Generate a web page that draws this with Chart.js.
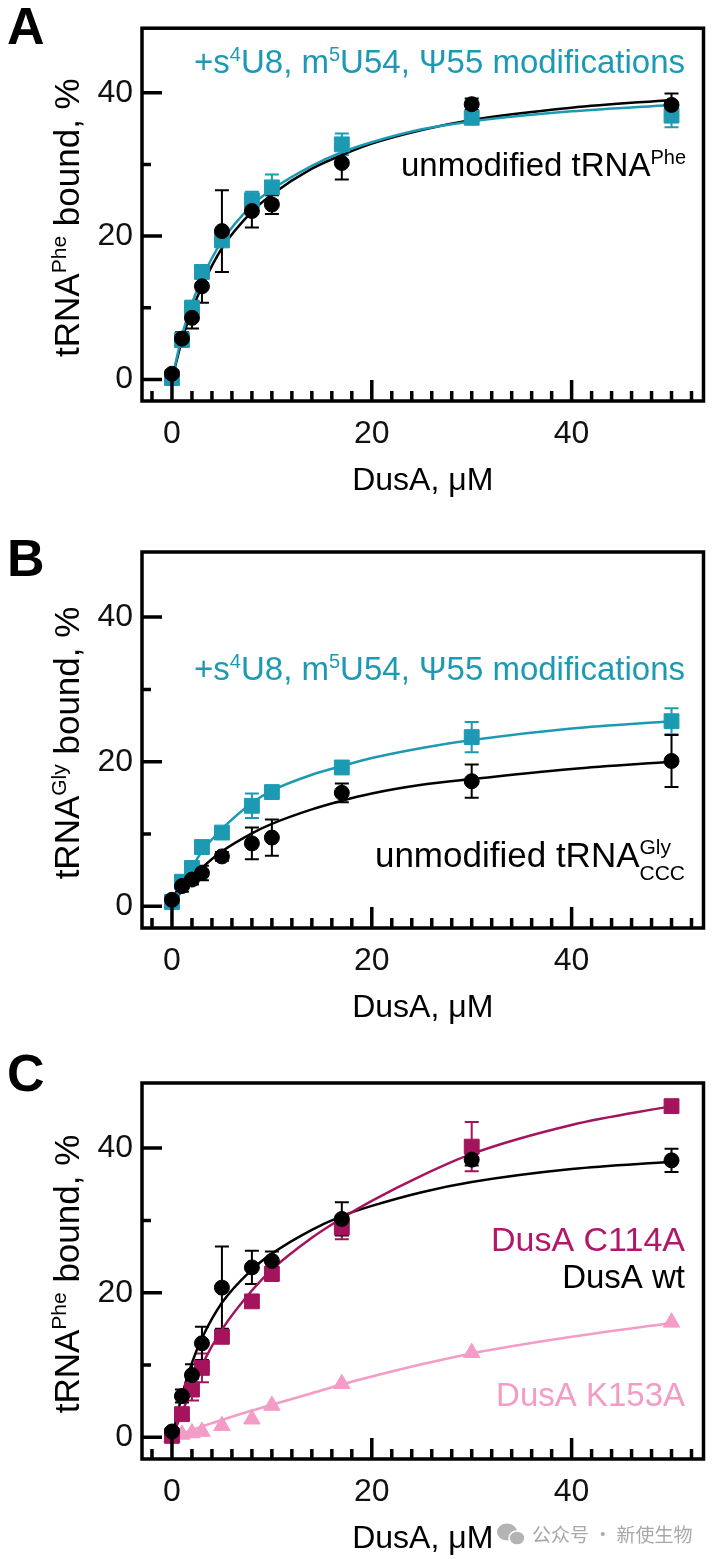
<!DOCTYPE html>
<html>
<head>
<meta charset="utf-8">
<script src="https://cdn.jsdelivr.net/npm/chart.js@4.4.1/dist/chart.umd.min.js"></script>
<style>
  html, body { margin: 0; padding: 0; background: #fff; }
  body { width: 715px; height: 1559px; position: relative; overflow: hidden; }
  .panel { position: absolute; left: 0; width: 715px; }
  canvas { display: block; }
</style>
</head>
<body>
<div class="panel" style="top:0px"><canvas id="chartA" width="715" height="520"></canvas></div>
<div class="panel" style="top:520px"><canvas id="chartB" width="715" height="520"></canvas></div>
<div class="panel" style="top:1040px"><canvas id="chartC" width="715" height="519"></canvas></div>
<script>
// DusA concentrations (uM) and points where the fitted curves were read
const dusA = [0, 1, 2, 3, 5, 8, 10, 17, 30, 50];
const fitX = [0, 1, 2, 3, 5, 8, 10, 14, 17, 20, 25, 30, 40, 50];
const xTickLabels = [0, 20, 40];
const yTickLabels = [0, 20, 40];

// A: tRNAPhe
const pheUnmod = [0.8, 5.7, 8.6, 13.0, 20.7, 23.5, 24.4, 30.2, 38.4, 38.3];
const pheUnmodErr = [0.5, 0.9, 1.5, 2.3, 5.7, 2.3, 1.3, 2.3, 0.8, 1.6];
const pheUnmodFit = [0, 5.5, 9.6, 13.0, 18.3, 23.4, 25.8, 29.4, 31.3, 32.9, 34.8, 36.2, 37.9, 39.0];
const pheMod = [0.2, 5.5, 10.0, 15.0, 19.4, 25.0, 26.8, 32.8, 36.5, 36.8];
const pheModErr = [0.5, 0.8, 1.0, 0.8, 0.8, 1.2, 1.8, 1.5, 0.6, 1.6];
const pheModFit = [0, 6.1, 10.6, 14.1, 19.3, 24.3, 26.5, 29.8, 31.7, 33.1, 34.9, 36.0, 37.4, 38.3];

// B: tRNAGly
const glyUnmod = [0.9, 2.8, 3.7, 4.6, 6.9, 8.7, 9.5, 15.7, 17.3, 20.1];
const glyUnmodErr = [0.5, 0.8, 0.7, 1.0, 0.6, 2.2, 2.5, 1.3, 2.3, 3.6];
const glyUnmodFit = [0, 2.2, 3.9, 5.3, 7.6, 10.1, 11.4, 13.4, 14.6, 15.6, 16.8, 17.6, 19.0, 20.0];
const glyMod = [0.6, 3.4, 5.3, 8.2, 10.2, 13.9, 15.8, 19.2, 23.4, 25.6];
const glyModErr = [0.4, 0.7, 0.6, 0.8, 0.7, 1.7, 0.8, 0.8, 2.1, 1.8];
const glyModFit = [0, 2.9, 5.3, 7.6, 10.7, 14.3, 16.0, 18.2, 19.4, 20.5, 21.9, 23.0, 24.6, 25.6];

// C: DusA variants on tRNAPhe
const wtFitC = [0, 5.8, 10.3, 13.7, 18.6, 23.2, 25.4, 28.7, 30.6, 32.0, 33.9, 35.3, 37.1, 38.1];
const c114a = [0.2, 3.2, 6.6, 9.6, 13.9, 18.8, 22.6, 29.0, 40.2, 45.8];
const c114aErr = [0.3, 0.8, 1.5, 2.0, 0.8, 0.8, 1.0, 1.6, 3.4, 0.6];
const c114aFit = [0, 3.4, 6.8, 10.0, 14.9, 20.3, 23.2, 27.6, 30.3, 32.7, 36.2, 39.2, 43.2, 45.8];
const k153a = [0.0, 0.4, 0.6, 0.8, 1.6, 2.5, 4.4, 7.4, 11.7, 15.9];
const k153aFit = [0, 0.5, 1.0, 1.5, 2.4, 3.7, 4.5, 6.1, 7.3, 8.4, 10.1, 11.6, 13.9, 15.8];

const FONT = '"Liberation Sans", Arial, Helvetica, sans-serif';
const TEAL = "#1c9ab3";
const WINE = "#a3145c";
const WINE_TEXT = "#b3176a";
const PINK = "#f39cc6";

function pts(xs, ys) {
  return xs.map(function (x, i) {
    return { x: x, y: ys[i] };
  });
}

function curve(ys, color) {
  return {
    data: pts(fitX, ys),
    borderColor: color,
    borderWidth: 2.5,
    pointRadius: 0,
    cubicInterpolationMode: "monotone",
    showLine: true,
    order: 5,
  };
}

function markers(ys, errs, color, style, radius, order) {
  return {
    data: pts(dusA, ys),
    errorBars: errs,
    showLine: false,
    pointStyle: style,
    pointRadius: radius,
    pointBackgroundColor: color,
    pointBorderColor: color,
    pointBorderWidth: 1,
    borderColor: color,
    order: order,
  };
}

function smallSize(size) {
  return Math.round(size * 0.6);
}

function richWidth(ctx, segs, size) {
  let w = 0;
  for (const s of segs) {
    if (s.stack) {
      ctx.font = smallSize(size) + "px " + FONT;
      w += Math.max(ctx.measureText(s.stack[0]).width, ctx.measureText(s.stack[1]).width);
    } else {
      ctx.font = (s.sup ? smallSize(size) : size) + "px " + FONT;
      w += ctx.measureText(s.t).width;
    }
  }
  return w;
}

function drawRich(ctx, segs, x, y, size, align) {
  const w = richWidth(ctx, segs, size);
  let cx = align === "right" ? x - w : align === "center" ? x - w / 2 : x;
  ctx.textAlign = "left";
  ctx.textBaseline = "alphabetic";
  for (const s of segs) {
    if (s.stack) {
      ctx.font = smallSize(size) + "px " + FONT;
      ctx.fillText(s.stack[0], cx, y - size * 0.36);
      ctx.fillText(s.stack[1], cx, y + size * 0.38);
      cx += Math.max(ctx.measureText(s.stack[0]).width, ctx.measureText(s.stack[1]).width);
      continue;
    }
    ctx.font = (s.sup ? smallSize(size) : size) + "px " + FONT;
    ctx.fillText(s.t, cx, s.sup ? y - size * 0.36 : y);
    cx += ctx.measureText(s.t).width;
  }
}

const errorBarPlugin = {
  id: "errorBars",
  beforeDatasetsDraw(chart) {
    const ctx = chart.ctx;
    const ys = chart.scales.y;
    ctx.save();
    chart.data.datasets.forEach(function (ds, i) {
      if (!ds.errorBars) return;
      const meta = chart.getDatasetMeta(i);
      ctx.strokeStyle = ds.borderColor;
      ctx.lineWidth = 2;
      meta.data.forEach(function (pt, j) {
        const e = ds.errorBars[j];
        if (!e) return;
        const v = ds.data[j].y;
        const top = ys.getPixelForValue(v + e);
        const bot = ys.getPixelForValue(v - e);
        ctx.beginPath();
        ctx.moveTo(pt.x, top);
        ctx.lineTo(pt.x, bot);
        ctx.moveTo(pt.x - 7, top);
        ctx.lineTo(pt.x + 7, top);
        ctx.moveTo(pt.x - 7, bot);
        ctx.lineTo(pt.x + 7, bot);
        ctx.stroke();
      });
    });
    ctx.restore();
  },
};

function makeDecor(cfg) {
  return {
    id: "decor",
    afterDraw(chart) {
      const ctx = chart.ctx;
      const a = chart.chartArea;
      const xs = chart.scales.x;
      const ys = chart.scales.y;
      ctx.save();

      // frame and inward ticks
      ctx.strokeStyle = "#000";
      ctx.lineWidth = 3.5;
      ctx.strokeRect(a.left, a.top, a.right - a.left, a.bottom - a.top);
      ctx.beginPath();
      for (let v = -2; v <= 52; v += 2) {
        const px = xs.getPixelForValue(v);
        const len = xTickLabels.includes(v) ? 21 : 10;
        ctx.moveTo(px, a.bottom);
        ctx.lineTo(px, a.bottom - len);
      }
      for (let v = 0; v <= 40; v += 10) {
        const py = ys.getPixelForValue(v);
        const len = yTickLabels.includes(v) ? 20 : 9;
        ctx.moveTo(a.left, py);
        ctx.lineTo(a.left + len, py);
      }
      ctx.stroke();

      // panel letter
      ctx.fillStyle = "#000";
      ctx.font = "bold 52px " + FONT;
      ctx.textAlign = "left";
      ctx.textBaseline = "alphabetic";
      ctx.fillText(cfg.letter, 7, cfg.letterY);

      // axis titles
      drawRich(ctx, [{ t: "DusA, μM" }], (a.left + a.right) / 2, a.bottom + 89, 32, "center");
      ctx.save();
      ctx.translate(79, (a.top + a.bottom) / 2 + 3);
      ctx.rotate(-Math.PI / 2);
      drawRich(ctx, cfg.yTitle, 0, 0, 35, "center");
      ctx.restore();

      // series notes
      for (const n of cfg.notes) {
        ctx.fillStyle = n.color;
        drawRich(ctx, n.segs, n.x, n.y, n.size || 33, "right");
      }

      if (cfg.watermark) {
        ctx.fillStyle = "#b4b4b4";
        ctx.beginPath();
        ctx.ellipse(507, 492, 10, 8.5, 0, 0, Math.PI * 2);
        ctx.fill();
        ctx.strokeStyle = "#fff";
        ctx.lineWidth = 1.5;
        ctx.beginPath();
        ctx.ellipse(517, 498, 8, 7, 0, 0, Math.PI * 2);
        ctx.fill();
        ctx.stroke();
        ctx.fillStyle = "#a8a8a8";
        ctx.font = '19px "Noto Sans CJK SC", sans-serif';
        ctx.fillText("公众号 · 新使生物", 532, 502);
      }
      ctx.restore();
    },
  };
}

const modSegs = [
  { t: "+s" }, { t: "4", sup: true }, { t: "U8, m" }, { t: "5", sup: true },
  { t: "U54, Ψ55 modifications" },
];
const pheTitle = [{ t: "tRNA" }, { t: "Phe", sup: true }, { t: " bound, %" }];

function buildChart(id, boxTop, canvasH, datasets, cfg) {
  const xAxisH = canvasH - boxTop - 376;
  new Chart(document.getElementById(id), {
    type: "line",
    data: { datasets: datasets },
    options: {
      responsive: false,
      animation: false,
      events: [],
      layout: { padding: { top: boxTop, right: 11, left: 0, bottom: 0 } },
      plugins: { legend: { display: false }, tooltip: { enabled: false } },
      scales: {
        x: {
          type: "linear",
          min: -3,
          max: 53.2,
          grid: { display: false, drawTicks: false },
          border: { display: false },
          ticks: { font: { size: 32, family: FONT }, color: "#111", padding: 14, maxRotation: 0 },
          afterBuildTicks: function (s) {
            s.ticks = xTickLabels.map(function (v) { return { value: v }; });
          },
          afterFit: function (s) {
            s.height = xAxisH;
          },
        },
        y: {
          type: "linear",
          min: -3,
          max: 49,
          grid: { display: false, drawTicks: false },
          border: { display: false },
          ticks: { font: { size: 32, family: FONT }, color: "#111", padding: 9 },
          afterBuildTicks: function (s) {
            s.ticks = yTickLabels.map(function (v) { return { value: v }; });
          },
          afterFit: function (s) {
            s.width = 142;
          },
        },
      },
    },
    plugins: [errorBarPlugin, makeDecor(cfg)],
  });
}

window.addEventListener("load", function () {
  buildChart("chartA", 25, 520, [
    curve(pheModFit, TEAL),
    curve(pheUnmodFit, "#000"),
    markers(pheMod, pheModErr, TEAL, "rect", 10.5, 3),
    markers(pheUnmod, pheUnmodErr, "#000", "circle", 7.5, 1),
  ], {
    letter: "A", letterY: 44, yTitle: pheTitle,
    notes: [
      { segs: modSegs, color: TEAL, x: 685, y: 73 },
      { segs: [{ t: "unmodified tRNA" }, { t: "Phe", sup: true }], color: "#000", x: 686, y: 176 },
    ],
  });

  buildChart("chartB", 32, 520, [
    curve(glyModFit, TEAL),
    curve(glyUnmodFit, "#000"),
    markers(glyMod, glyModErr, TEAL, "rect", 10.5, 3),
    markers(glyUnmod, glyUnmodErr, "#000", "circle", 7.5, 1),
  ], {
    letter: "B", letterY: 56, yTitle: [{ t: "tRNA" }, { t: "Gly", sup: true }, { t: " bound, %" }],
    notes: [
      { segs: modSegs, color: TEAL, x: 685, y: 160 },
      { segs: [{ t: "unmodified tRNA" }, { stack: ["Gly", "CCC"] }], color: "#000", x: 685, y: 347, size: 35 },
    ],
  });

  buildChart("chartC", 43, 519, [
    curve(k153aFit, PINK),
    curve(c114aFit, WINE),
    curve(wtFitC, "#000"),
    markers(k153a, null, PINK, "triangle", 9.5, 4),
    markers(c114a, c114aErr, WINE, "rect", 10.5, 3),
    markers(pheUnmod, pheUnmodErr, "#000", "circle", 7.5, 1),
  ], {
    letter: "C", letterY: 51, yTitle: pheTitle, watermark: true,
    notes: [
      { segs: [{ t: "DusA C114A" }], color: WINE_TEXT, x: 685, y: 211, size: 34 },
      { segs: [{ t: "DusA wt" }], color: "#000", x: 685, y: 248 },
      { segs: [{ t: "DusA K153A" }], color: PINK, x: 685, y: 366 },
    ],
  });
});
</script>
</body>
</html>
